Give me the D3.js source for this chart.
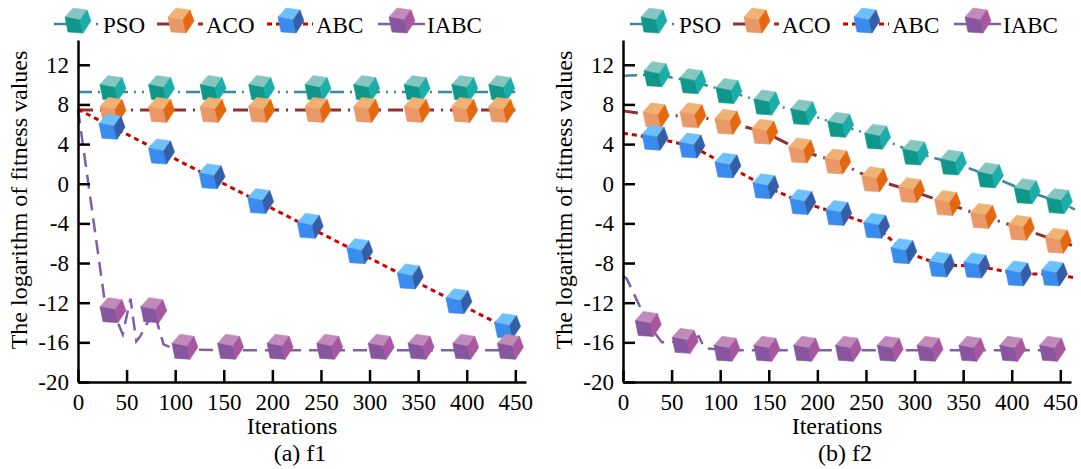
<!DOCTYPE html>
<html>
<head>
<meta charset="utf-8">
<script src="https://cdn.jsdelivr.net/npm/d3@7"></script>
<style>
body { margin: 0; background: #fff; }
svg { display: block; font-family: "Liberation Serif", "Times New Roman", serif; }
</style>
</head>
<body>
<div id="my_dataviz"></div>
<script>
var xTicks = [0, 50, 100, 150, 200, 250, 300, 350, 400, 450];
var yTicks = [-20, -16, -12, -8, -4, 0, 4, 8, 12];
var seriesNames = ["PSO", "ACO", "ABC", "IABC"];

// (a) f1  -- lines as [iteration, log fitness]
var f1PsoLine = [[0, 9.25], [450, 9.25]];
var f1AcoLine = [[0, 7.45], [450, 7.45]];
var f1AbcLine = [[0, 7.5], [452, -15.1]];
var f1IabcLine = [[0, 7.5], [27, -11.5], [36, -12.8], [46, -15.2], [54, -11.6], [60, -15.9],
                  [64, -15.4], [78, -12.8], [88, -16.2], [100, -16.7], [150, -16.8], [455, -16.8]];
// markers
var f1PsoMarks = [[36, 9.6], [86, 9.6], [139, 9.6], [189, 9.6], [247, 9.6], [297, 9.6], [349, 9.6], [398, 9.6], [436, 9.6]];
var f1AcoMarks = [[36, 7.4], [86, 7.4], [139, 7.4], [189, 7.4], [247, 7.4], [297, 7.4], [349, 7.4], [398, 7.4], [436, 7.4]];
var f1AbcMarks = [[35, 5.7], [86, 3.2], [138, 0.7], [188, -1.8], [239, -4.3], [290, -6.85], [342, -9.4], [392, -11.9], [442, -14.4]];
var f1IabcMarks = [[36, -12.8], [78, -12.8], [110, -16.5], [157, -16.5], [208, -16.5], [259, -16.5], [312, -16.5], [353, -16.5], [399, -16.5], [445, -16.5]];

// (b) f2
var f2PsoLine = [[0, 10.9], [35, 11.0], [72, 10.3], [109, 9.3], [148, 8.15], [186, 7.15], [224, 5.9], [262, 4.7],
                 [301, 3.1], [340, 2.1], [378, 0.8], [416, -0.8], [449, -1.8], [465, -2.6]];
var f2AcoLine = [[0, 7.35], [34, 6.85], [72, 6.85], [108, 6.2], [146, 5.2], [184, 3.3], [221, 2.2], [259, 0.4],
                 [297, -0.7], [334, -2.0], [371, -3.3], [410, -4.5], [448, -5.8], [462, -6.2]];
var f2AbcLine = [[0, 5.1], [33, 4.6], [71, 3.8], [108, 1.8], [147, -0.3], [185, -1.9], [222, -3.0], [261, -4.3],
                 [289, -6.85], [328, -8.2], [364, -8.3], [407, -9.1], [444, -9.1], [465, -9.5]];
var f2IabcLine = [[0, -9.3], [4, -9.6], [26, -14.2], [40, -16.0], [64, -15.9], [78, -15.4], [84, -16.6], [107, -16.8], [448, -16.8]];
var f2PsoMarks = [[35, 11.0], [72, 10.3], [109, 9.3], [148, 8.15], [186, 7.15], [224, 5.9], [262, 4.7], [301, 3.1], [340, 2.1], [378, 0.8], [416, -0.8], [449, -1.8]];
var f2AcoMarks = [[34, 6.85], [72, 6.85], [108, 6.2], [146, 5.2], [184, 3.3], [221, 2.2], [259, 0.4], [297, -0.7], [334, -2.0], [371, -3.3], [410, -4.5], [448, -5.8]];
var f2AbcMarks = [[33, 4.6], [71, 3.8], [108, 1.8], [147, -0.3], [185, -1.9], [222, -3.0], [261, -4.3], [289, -6.85], [328, -8.2], [364, -8.3], [407, -9.1], [444, -9.1]];
var f2IabcMarks = [[26, -14.2], [64, -15.9], [107, -16.7], [148, -16.7], [189, -16.7], [232, -16.7], [275, -16.7], [316, -16.7], [359, -16.7], [401, -16.7], [442, -16.7]];

var styles = [
    {stroke: "#3b88a6", width: 2.5, dash: "14,6,2,6,2,6", faces: ["#86c6c0", "#0f978b", "#1bada7"]},
    {stroke: "#922f2f", width: 3, dash: "15,7,2,7", faces: ["#efb274", "#eb9868", "#e3680f"]},
    {stroke: "#d00000", width: 3, dash: "5,4", faces: ["#6cc0fc", "#3a8bee", "#345fa6"]},
    {stroke: "#7e60a8", width: 2.5, dash: "14,8", faces: ["#c08bbb", "#87569f", "#a8569f"]}
];

var W = 1081, H = 469;
var svg = d3.select("#my_dataviz")
    .append("svg")
    .attr("width", W)
    .attr("height", H);

// cube marker: top, left and right faces
var topFace = [[-13, -4], [-5, -13], [9, -11], [2, -1]];
var leftFace = [[-13, -4], [2, -1], [5, 12], [-10, 11]];
var rightFace = [[2, -1], [9, -11], [13, 0], [5, 12]];

function cube(g, cx, cy, faces) {
    var c = g.append("g").attr("transform", "translate(" + cx + "," + cy + ")");
    [topFace, leftFace, rightFace].forEach(function(f, i) {
        c.append("polygon")
            .attr("points", f.map(function(p) { return p.join(","); }).join(" "))
            .attr("fill", faces[i])
            .attr("stroke", faces[i])
            .attr("stroke-width", 0.6)
            .attr("stroke-linejoin", "round");
    });
}

function drawPanel(x0, legendX, lines, marks, caption) {
    var x = d3.scaleLinear().domain([0, 461]).range([x0, x0 + 448]);
    var y = d3.scaleLinear().domain([-20, 14.5]).range([382, 40]);

    var line = d3.line()
        .x(function(d) { return x(d[0]); })
        .y(function(d) { return y(d[1]); });

    lines.forEach(function(data, i) {
        svg.append("path")
            .datum(data)
            .attr("fill", "none")
            .attr("stroke", styles[i].stroke)
            .attr("stroke-width", styles[i].width)
            .attr("stroke-dasharray", styles[i].dash)
            .attr("d", line);
    });

    marks.forEach(function(data, i) {
        var g = svg.append("g");
        data.forEach(function(d) { cube(g, x(d[0]), y(d[1]), styles[i].faces); });
    });

    var plain = function(d) { return String(d); };   // keep ascii hyphen for negatives
    var xAxis = svg.append("g")
        .attr("transform", "translate(0,382)")
        .call(d3.axisBottom(x).tickValues(xTicks).tickFormat(plain).tickSizeInner(-12).tickSizeOuter(0).tickPadding(12));
    var yAxis = svg.append("g")
        .attr("transform", "translate(" + x0 + ",0)")
        .call(d3.axisLeft(y).tickValues(yTicks).tickFormat(plain).tickSizeInner(-12).tickSizeOuter(0).tickPadding(9));

    [xAxis, yAxis].forEach(function(a) {
        a.selectAll("path, line").attr("stroke", "#000").attr("stroke-width", 2.5);
        a.selectAll("text")
            .attr("fill", "#000")
            .style("font-family", "Liberation Serif, Times New Roman, serif")
            .style("font-size", "23px");
    });

    svg.append("text")
        .attr("x", x0 + 214)
        .attr("y", 434)
        .attr("text-anchor", "middle")
        .style("font-size", "24px")
        .text("Iterations");

    svg.append("text")
        .attr("x", x0 + 222)
        .attr("y", 461)
        .attr("text-anchor", "middle")
        .style("font-size", "24px")
        .text(caption);

    svg.append("text")
        .attr("transform", "translate(" + (x0 - 51) + ",200) rotate(-90)")
        .attr("text-anchor", "middle")
        .style("font-size", "24px")
        .text("The logarithm of fitness values");

    // legend
    var itemX = [0, 103, 213, 324];
    var ly = 24;
    seriesNames.forEach(function(name, i) {
        var lx = legendX + itemX[i];
        var st = styles[i];
        var g = svg.append("g");
        if (i == 2) {
            g.append("line").attr("x1", lx).attr("x2", lx + 46).attr("y1", ly).attr("y2", ly)
                .attr("stroke", st.stroke).attr("stroke-width", st.width).attr("stroke-dasharray", st.dash);
        } else if (i == 3) {
            g.append("line").attr("x1", lx).attr("x2", lx + 47).attr("y1", ly).attr("y2", ly)
                .attr("stroke", st.stroke).attr("stroke-width", st.width);
        } else {
            g.append("line").attr("x1", lx).attr("x2", lx + 14).attr("y1", ly).attr("y2", ly)
                .attr("stroke", st.stroke).attr("stroke-width", st.width);
            g.append("line").attr("x1", lx + (i == 0 ? 42 : 41)).attr("x2", lx + (i == 0 ? 44 : 46)).attr("y1", ly).attr("y2", ly)
                .attr("stroke", st.stroke).attr("stroke-width", st.width);
        }
        cube(g, lx + 24, 21, st.faces);
        g.append("text")
            .attr("x", lx + 49)
            .attr("y", 33)
            .style("font-size", "23px")
            .text(name);
    });
}

drawPanel(78, 54, [f1PsoLine, f1AcoLine, f1AbcLine, f1IabcLine],
    [f1PsoMarks, f1AcoMarks, f1AbcMarks, f1IabcMarks], "(a) f1");
drawPanel(623, 630, [f2PsoLine, f2AcoLine, f2AbcLine, f2IabcLine],
    [f2PsoMarks, f2AcoMarks, f2AbcMarks, f2IabcMarks], "(b) f2");
</script>
</body>
</html>
